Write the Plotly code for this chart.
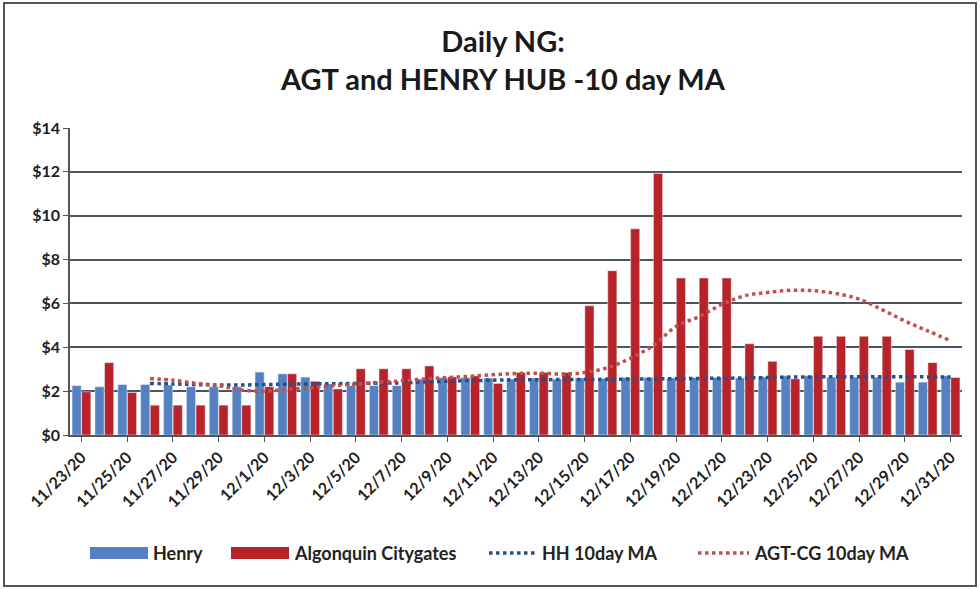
import plotly.graph_objects as go

dates = ["11/23/20", "11/24/20", "11/25/20", "11/26/20", "11/27/20", "11/28/20", "11/29/20", "11/30/20",
         "12/1/20", "12/2/20", "12/3/20", "12/4/20", "12/5/20", "12/6/20", "12/7/20", "12/8/20",
         "12/9/20", "12/10/20", "12/11/20", "12/12/20", "12/13/20", "12/14/20", "12/15/20", "12/16/20",
         "12/17/20", "12/18/20", "12/19/20", "12/20/20", "12/21/20", "12/22/20", "12/23/20", "12/24/20",
         "12/25/20", "12/26/20", "12/27/20", "12/28/20", "12/29/20", "12/30/20", "12/31/20"]

henry = [2.25, 2.2, 2.3, 2.3, 2.28, 2.2, 2.2, 2.2,
         2.87, 2.79, 2.64, 2.33, 2.25, 2.25, 2.25, 2.55,
         2.62, 2.62, 2.6, 2.55, 2.6, 2.55, 2.6, 2.58,
         2.62, 2.62, 2.6, 2.62, 2.62, 2.6, 2.65, 2.7,
         2.7, 2.64, 2.64, 2.64, 2.41, 2.41, 2.7]

algonquin = [1.97, 3.3, 1.94, 1.36, 1.36, 1.36, 1.36, 1.36,
             2.2, 2.79, 2.45, 2.1, 3.02, 3.02, 3.02, 3.15,
             2.65, 2.7, 2.35, 2.85, 2.85, 2.85, 5.89, 7.49,
             9.4, 11.93, 7.16, 7.16, 7.16, 4.16, 3.36, 2.56,
             4.5, 4.5, 4.5, 4.5, 3.9, 3.3, 2.62]

hh_ma = [None, None, None, 2.35, 2.33, 2.3, 2.28, 2.28,
         2.3, 2.32, 2.33, 2.34, 2.35, 2.36, 2.38, 2.42,
         2.45, 2.48, 2.5, 2.52, 2.52, 2.53, 2.53, 2.54,
         2.55, 2.56, 2.57, 2.58, 2.59, 2.6, 2.62, 2.64,
         2.65, 2.66, 2.66, 2.66, 2.66, 2.65, 2.65]

agt_ma = [None, None, None, 2.58, 2.5, 2.36, 2.25, 2.05,
          2.0, 2.08, 2.15, 2.25, 2.32, 2.4, 2.47, 2.55,
          2.62, 2.68, 2.75, 2.8, 2.82, 2.78, 2.85, 3.07,
          3.5, 4.08, 4.95, 5.4, 5.95, 6.35, 6.5, 6.6,
          6.58, 6.45, 6.2, 5.72, 5.2, 4.75, 4.3]

series_names = ["Henry", "Algonquin Citygates", "HH 10day MA", "AGT-CG 10day MA"]

y_ticks = [0, 2, 4, 6, 8, 10, 12, 14]
y_labels = ["$" + str(v) for v in y_ticks]

FONT = "Lato, 'Open Sans', sans-serif"
BLUE = "#5580C2"
RED = "#B8232A"
NAVY = "#23508C"
PINK = "#C0504D"

fig = go.Figure()
fig.add_trace(go.Bar(x=dates, y=henry, name=series_names[0], marker_color=BLUE))
fig.add_trace(go.Bar(x=dates, y=algonquin, name=series_names[1], marker_color=RED))
fig.add_trace(go.Scatter(x=dates, y=hh_ma, name=series_names[2], mode="lines",
                         line=dict(color=NAVY, width=3.5, dash="dot", shape="spline")))
fig.add_trace(go.Scatter(x=dates, y=agt_ma, name=series_names[3], mode="lines",
                         line=dict(color=PINK, width=3.5, dash="dot", shape="spline")))

L, R, T, B = 70, 18, 128, 155
W, H = 980, 590
pw, ph = W - L - R, H - T - B


def px_x(x):
    return (x - L) / pw


def px_y(y):
    return (H - B - y) / ph


shapes = [dict(type="rect", xref="paper", yref="paper",
               x0=px_x(4), x1=px_x(976), y0=px_y(586), y1=px_y(3),
               line=dict(color="#555555", width=2), fillcolor="rgba(0,0,0,0)", layer="below")]

# custom legend (wide swatches like the original)
LEG_Y = 553
legend_items = [
    ("rect", BLUE, 90, 148, series_names[0], 151),
    ("rect", RED, 231, 289, series_names[1], 292),
    ("dot", NAVY, 489, 536, series_names[2], 540),
    ("dot", PINK, 698, 749, series_names[3], 752),
]
annotations = []
for kind, col, x0, x1, label, tx in legend_items:
    if kind == "rect":
        shapes.append(dict(type="rect", xref="paper", yref="paper",
                           x0=px_x(x0), x1=px_x(x1), y0=px_y(LEG_Y + 6), y1=px_y(LEG_Y - 6),
                           line=dict(width=0), fillcolor=col))
    else:
        shapes.append(dict(type="line", xref="paper", yref="paper",
                           x0=px_x(x0), x1=px_x(x1), y0=px_y(LEG_Y), y1=px_y(LEG_Y),
                           line=dict(color=col, width=3.5, dash="dot")))
    annotations.append(dict(xref="paper", yref="paper", x=px_x(tx), y=px_y(LEG_Y),
                            xanchor="left", yanchor="middle", showarrow=False,
                            text="<b>" + label + "</b>",
                            font=dict(family=FONT, size=18, color="#222222")))

fig.update_layout(
    width=W, height=H,
    margin=dict(l=L, r=R, t=T, b=B, autoexpand=False),
    paper_bgcolor="white", plot_bgcolor="white",
    font=dict(family=FONT, size=14, color="#222222"),
    title=dict(text="<b>Daily NG:<br>AGT and HENRY HUB -10 day MA</b>",
               x=503 / W, xanchor="center", y=1 - 52 / H, yanchor="top",
               font=dict(family=FONT, size=29, color="#1a1a1a")),
    barmode="group", bargap=0.16, bargroupgap=0.05,
    showlegend=False,
    xaxis=dict(type="category", tickmode="array", tickvals=dates[::2],
               ticktext=["<b>" + d + "</b>" for d in dates[::2]], automargin=False,
               tickangle=-45, showgrid=False, showline=True, linecolor="#555555", linewidth=1.5,
               ticks="outside", ticklen=5, tickcolor="#555555",
               tickfont=dict(family=FONT, size=16, color="#222222")),
    yaxis=dict(range=[0, 14], tickmode="array", tickvals=y_ticks, automargin=False,
               ticktext=["<b>" + t + "</b>" for t in y_labels],
               showgrid=True, gridcolor="#4a5560", gridwidth=1.8, zeroline=False,
               showline=True, linecolor="#555555", linewidth=1.5,
               ticks="outside", ticklen=5, tickcolor="#555555",
               tickfont=dict(family=FONT, size=16, color="#222222")),
    shapes=shapes,
    annotations=annotations,
)

fig.write_html("out.html", config={"displayModeBar": False},
               post_script="document.body.style.margin='0';")
